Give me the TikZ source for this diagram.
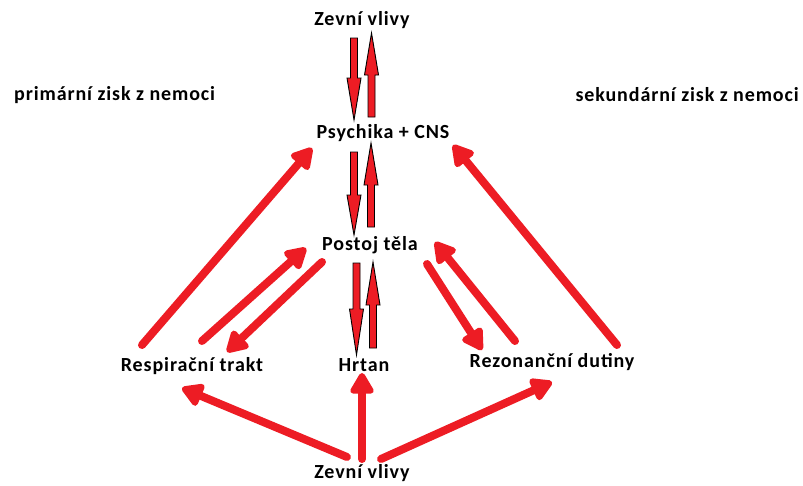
\documentclass[tikz,border=0pt]{standalone}
\usepackage{fontspec}
\setmainfont{Carlito}[LetterSpace=4.5]
\usetikzlibrary{arrows.meta}
\definecolor{pred}{RGB}{237,28,36}
\tikzset{
  lbl/.style={font=\bfseries\fontsize{20}{24}\selectfont, inner sep=0pt, text=black},
  thick arrow/.style={draw=pred, line width=8pt, line cap=round,
     -{Triangle[length=24pt,width=26pt,round]}},
  blk/.style={draw=black, fill=pred, line width=0.9pt, line join=miter}
}
\newcommand{\blkarrow}[4]{%
  \draw[blk] (#1-3.5,#2) -- (#1+3.5,#2) -- (#1+3.5,#3) -- (#1+7,#3) -- (#1,#4) -- (#1-7,#3) -- (#1-3.5,#3) -- cycle;}
\begin{document}
\begin{tikzpicture}[x=1pt,y=-1pt]
\useasboundingbox[fill=white] (0,0) rectangle (803,485);
% labels
\node[lbl] (zt) at (362,20) {Zevní vlivy};
\node[lbl,anchor=west] (prim) at (14,95) {primární zisk z nemoci};
\node[lbl,anchor=east] (sek) at (799,95) {sekundární zisk z nemoci};
\node[lbl] (psy) at (383,133) {Psychika + CNS};
\node[lbl] (pos) at (370,245) {Postoj těla};
\node[lbl] (res) at (192,366) {Respirační trakt};
\node[lbl] (hrt) at (364,365) {Hrtan};
\node[lbl] (rez) at (552,362) {Rezonanční dutiny};
\node[lbl] (zb) at (362,473) {Zevní vlivy};
% block arrows
\blkarrow{354}{38}{78}{120}
\blkarrow{371.5}{117}{75}{33}
\blkarrow{354}{152}{195}{235}
\blkarrow{371}{227}{185}{143}
\blkarrow{356.5}{263}{309}{355}
\blkarrow{373}{348}{305}{262}
% coordinates for thick arrows
\coordinate (a1) at (142,345); \coordinate (a1t) at (312,148);
\coordinate (a2) at (202,341); \coordinate (a2t) at (306,248);
\coordinate (a3) at (322,262); \coordinate (a3t) at (227,352);
\coordinate (a4) at (347,457); \coordinate (a4t) at (182,388);
\coordinate (a5) at (362,459); \coordinate (a5t) at (362,373);
\coordinate (a6) at (381,459); \coordinate (a6t) at (552,382);
\coordinate (a7) at (427,264); \coordinate (a7t) at (482,350);
\coordinate (a8) at (515,341); \coordinate (a8t) at (435,242);
\coordinate (a9) at (617,345); \coordinate (a9t) at (453,145);
\foreach \i in {1,...,9}{\draw[thick arrow] (a\i) -- (a\i t);}
\end{tikzpicture}
\end{document}
